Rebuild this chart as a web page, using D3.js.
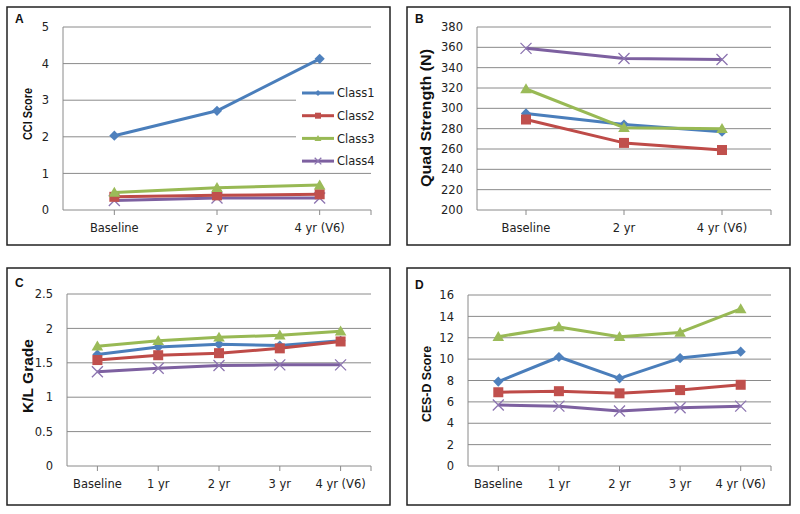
<!DOCTYPE html>
<html>
<head>
<meta charset="utf-8">
<script src="https://cdn.jsdelivr.net/npm/d3@7"></script>
<style>
  body { margin: 0; background: #fff; }
  svg { display: block; }
</style>
</head>
<body>
<script>
// categories
const cats3 = ['Baseline', '2 yr', '4 yr (V6)']
const cats5 = ['Baseline', '1 yr', '2 yr', '3 yr', '4 yr (V6)']
const classes = ['Class1', 'Class2', 'Class3', 'Class4']

// series values, one row per class
const cciScore = [[2.03, 2.71, 4.13], [0.36, 0.40, 0.43], [0.48, 0.61, 0.68], [0.26, 0.33, 0.33]]
const quadStrength = [[295, 284, 277], [289, 266, 259], [319, 281, 280], [359, 349, 348]]
const klGrade = [
    [1.62, 1.73, 1.77, 1.75, 1.82],
    [1.54, 1.61, 1.64, 1.71, 1.81],
    [1.74, 1.82, 1.87, 1.90, 1.96],
    [1.37, 1.42, 1.46, 1.47, 1.47]]
const cesdScore = [
    [7.9, 10.2, 8.2, 10.1, 10.7],
    [6.9, 7.0, 6.8, 7.1, 7.6],
    [12.1, 13.0, 12.1, 12.5, 14.7],
    [5.7, 5.6, 5.15, 5.45, 5.6]]

// tick labels
const cciTicks = [0, 1, 2, 3, 4, 5]
const quadTicks = [200, 220, 240, 260, 280, 300, 320, 340, 360, 380]
const klTicks = [0, 0.5, 1, 1.5, 2, 2.5]
const cesdTicks = [0, 2, 4, 6, 8, 10, 12, 14, 16]

const lineColors = ['#4a7ebb', '#be4b48', '#98b954', '#7d60a0']
const markColors = ['#4f81bd', '#c0504d', '#9bbb59', '#8c74b0']
const gridColor = '#8a8a8a'

const svg = d3.select('body').append('svg')
    .attr('width', 800)
    .attr('height', 514)

function marker(sel, i, s) {
    // Excel-ish markers: diamond, square, triangle, x
    if (i === 0) {
        sel.append('rect')
            .attr('x', -s * 0.36).attr('y', -s * 0.36)
            .attr('width', s * 0.72).attr('height', s * 0.72)
            .attr('transform', 'rotate(45)')
            .style('fill', markColors[i])
    } else if (i === 1) {
        sel.append('rect')
            .attr('x', -s / 2).attr('y', -s / 2)
            .attr('width', s).attr('height', s)
            .style('fill', markColors[i])
    } else if (i === 2) {
        const h = s * 0.95
        sel.append('path')
            .attr('d', `M0,${-h * 0.6}L${s * 0.58},${h * 0.45}L${-s * 0.58},${h * 0.45}Z`)
            .style('fill', markColors[i])
    } else {
        const r = s * 0.55
        sel.append('path')
            .attr('d', `M${-r},${-r}L${r},${r}M${-r},${r}L${r},${-r}`)
            .style('fill', 'none')
            .style('stroke', markColors[i])
            .style('stroke-width', 1.3)
    }
}

function drawPanel(o) {
    const g = svg.append('g')

    g.append('rect')
        .attr('x', o.box[0]).attr('y', o.box[1])
        .attr('width', o.box[2] - o.box[0]).attr('height', o.box[3] - o.box[1])
        .style('fill', '#fff')
        .style('stroke', '#222')
        .style('stroke-width', 1.5)

    g.append('text')
        .attr('x', o.box[0] + 8).attr('y', o.letterY)
        .text(o.letter)
        .style('font-family', 'Liberation Sans, Arial, sans-serif')
        .style('font-weight', 'bold')
        .style('font-size', '12px')
        .style('fill', '#111')

    const x = d3.scalePoint().domain(o.cats).range([o.left, o.right]).padding(0.5)
    const y = d3.scaleLinear().domain(d3.extent(o.ticks)).range([o.bottom, o.top])

    // gridlines
    g.selectAll('.grid')
        .data(o.ticks.slice(1))
        .join('line')
        .attr('x1', o.left).attr('x2', o.right)
        .attr('y1', d => y(d)).attr('y2', d => y(d))
        .style('stroke', gridColor)
        .style('stroke-width', 1)

    // axes lines
    g.append('line')
        .attr('x1', o.left).attr('x2', o.left)
        .attr('y1', o.top).attr('y2', o.bottom)
        .style('stroke', gridColor)
    g.append('line')
        .attr('x1', o.left).attr('x2', o.right)
        .attr('y1', o.bottom).attr('y2', o.bottom)
        .style('stroke', gridColor)

    // x ticks at category centres and at the right end
    const tickXs = o.cats.map(c => x(c)).concat([o.right])
    g.selectAll('.xtick')
        .data(tickXs)
        .join('line')
        .attr('x1', d => d).attr('x2', d => d)
        .attr('y1', o.bottom).attr('y2', o.bottom + 5)
        .style('stroke', gridColor)

    g.selectAll('.xlab')
        .data(o.cats)
        .join('text')
        .attr('x', d => x(d))
        .attr('y', o.bottom + 22)
        .attr('text-anchor', 'middle')
        .text(d => d)
        .style('font-family', 'DejaVu Sans, sans-serif')
        .style('font-size', '11.5px')
        .style('fill', '#222')

    g.selectAll('.ylab')
        .data(o.ticks)
        .join('text')
        .attr('x', o.left - 14)
        .attr('y', d => y(d))
        .attr('dy', '0.36em')
        .attr('text-anchor', 'end')
        .text(d => d)
        .style('font-family', 'DejaVu Sans, sans-serif')
        .style('font-size', '11.5px')
        .style('fill', '#222')

    const title = g.append('text')
        .attr('transform', `translate(${o.titleX},${o.titleY}) rotate(-90)`)
        .attr('text-anchor', 'middle')
        .text(o.title)
        .style('font-family', 'Liberation Sans, Arial, sans-serif')
        .style('font-weight', 'bold')
        .style('font-size', o.titleSize + 'px')
        .style('fill', '#111')
    if (o.titleLen) title.attr('textLength', o.titleLen).attr('lengthAdjust', 'spacingAndGlyphs')

    // legend (white box hides the gridlines behind it)
    if (o.legend) {
        const lg = g.append('g')
        lg.append('rect')
            .attr('x', 296).attr('y', 80).attr('width', 92).attr('height', 92)
            .style('fill', '#fff')
        classes.forEach((c, i) => {
            const ly = 93 + i * 22.7
            lg.append('line')
                .attr('x1', 302).attr('x2', 334)
                .attr('y1', ly).attr('y2', ly)
                .style('stroke', lineColors[i])
                .style('stroke-width', 3)
            marker(lg.append('g').attr('transform', `translate(318,${ly})`), i, 6)
            lg.append('text')
                .attr('x', 337).attr('y', ly)
                .attr('dy', '0.36em')
                .text(c)
                .style('font-family', 'DejaVu Sans, sans-serif')
                .style('font-size', '11.5px')
                .style('fill', '#222')
        })
    }

    const line = d3.line()
        .x((d, i) => x(o.cats[i]))
        .y(d => y(d))

    o.order.forEach(i => {
        const vals = o.values[i]
        g.append('path')
            .datum(vals)
            .attr('d', line)
            .style('fill', 'none')
            .style('stroke', lineColors[i])
            .style('stroke-width', 3)
            .style('stroke-linejoin', 'round')
        g.selectAll(null)
            .data(vals)
            .join('g')
            .attr('transform', (d, j) => `translate(${x(o.cats[j])},${y(d)})`)
            .each(function () { marker(d3.select(this), i, 10) })
    })
}

drawPanel({
    box: [7, 7, 390, 245], letter: 'A', letterY: 23,
    left: 63, right: 371, top: 27, bottom: 210,
    cats: cats3, values: cciScore, ticks: cciTicks,
    title: 'CCI Score', titleX: 32, titleY: 114, titleSize: 12.5, titleLen: 52,
    legend: true, order: [3, 0, 1, 2]
})

drawPanel({
    box: [407, 7, 790, 245], letter: 'B', letterY: 23,
    left: 477, right: 771, top: 27, bottom: 210,
    cats: cats3, values: quadStrength, ticks: quadTicks,
    title: 'Quad Strength (N)', titleX: 431, titleY: 118, titleSize: 14, titleLen: 138,
    legend: false, order: [3, 0, 1, 2]
})

drawPanel({
    box: [7, 268, 390, 505], letter: 'C', letterY: 287,
    left: 67, right: 371, top: 294, bottom: 466,
    cats: cats5, values: klGrade, ticks: klTicks,
    title: 'K/L Grade', titleX: 33, titleY: 376, titleSize: 15, titleLen: 74,
    legend: false, order: [3, 0, 1, 2]
})

drawPanel({
    box: [407, 268, 790, 505], letter: 'D', letterY: 289,
    left: 468, right: 771, top: 295, bottom: 466,
    cats: cats5, values: cesdScore, ticks: cesdTicks,
    title: 'CES-D Score', titleX: 431, titleY: 384, titleSize: 12.5, titleLen: 76,
    legend: false, order: [3, 0, 1, 2]
})
</script>
</body>
</html>
